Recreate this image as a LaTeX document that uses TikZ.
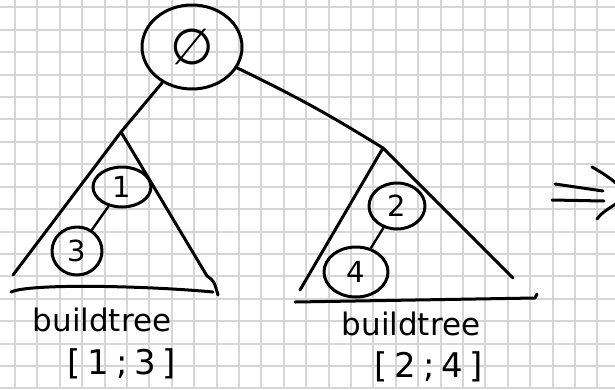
\documentclass[tikz,border=0pt]{standalone}
\usepackage{fontspec}
\setmainfont{DejaVu Sans}
\usetikzlibrary{positioning, shapes.geometric}
\definecolor{ink}{RGB}{0,0,0}
\definecolor{gridgray}{RGB}{214,214,214}
\tikzset{
    pen/.style={draw=ink, line width=3pt, line cap=round, line join=round},
    keynode/.style={pen, ellipse, inner sep=0pt, font=\fontsize{29}{29}\selectfont},
    rootnode/.style={keynode, font=\fontsize{50}{50}\selectfont},
    caption/.style={font=\fontsize{31}{32}\selectfont, inner sep=0pt},
    rangetext/.style={font=\fontsize{34}{34}\selectfont\addfontfeatures{LetterSpace=20}, inner sep=0pt},
    gridline/.style={draw=gridgray, line width=2pt}
}

\begin{document}
\begin{tikzpicture}[x=1pt, y=-1pt]

\useasboundingbox (0,0) rectangle (615,389);
\fill[white] (0,0) rectangle (615,389);

% Paper
\begin{scope}
    \clip (0,0) rectangle (615,389);
    \foreach \i in {0,...,27} \draw[gridline] ({15+22.4*\i},0) -- ++(0,389);
    \foreach \j in {0,...,17} \draw[gridline] (0,{7.3+22.42*\j}) -- ++(615,0);
\end{scope}

% Nodes
\node[rootnode, minimum width=100pt, minimum height=84pt] (root) at (192,47) {∅};
\node[keynode, minimum width=58pt, minimum height=40pt] (one) at (122,187) {1};
\node[keynode, minimum width=50pt, minimum height=48pt] (three) at (77,251) {3};
\node[keynode, minimum width=56pt, minimum height=46pt] (two) at (397,206) {2};
\node[keynode, minimum width=64pt, minimum height=50pt] (four) at (356,272) {4};

% Subtrees
\coordinate (leftapex) at (121,132);
\coordinate (leftbl) at (13,275);
\coordinate (leftbr) at (207,276);
\coordinate (rightapex) at (383,148);
\coordinate (rightbl) at (300,290);
\coordinate (rightbr) at (513,278);

\draw[pen] (root) -- (leftapex);
\draw[pen] (root) to[bend left=3] (rightapex);
\draw[pen] (leftbl) -- (leftapex) -- (leftbr) .. controls (214,281) .. (218,295);
\draw[pen] (rightbl) -- (rightapex) -- (rightbr);

\draw[pen] (11,292) .. controls (30,283) and (150,286) .. (213,292);
\draw[pen] (295,302) -- (535,298) -- (537,294);

\draw[pen, line width=2.4pt] (one) -- (three);
\draw[pen, line width=2.4pt] (two) -- (four);

% Labels
\node[caption] (leftname) at (102,320) {buildtree};
\node[rangetext] (leftrange) at (122,364) {[1;3]};
\node[caption] (rightname) at (411,324) {buildtree};
\node[rangetext] (rightrange) at (429,367) {[2;4]};

% Implies
\begin{scope}
    \clip (0,0) rectangle (615,389);
    \draw[pen] (555,184) -- (603,191);
    \draw[pen] (552,200) -- (604,201);
    \draw[pen] (592,167) .. controls (612,178) and (625,190) .. (627,196)
        .. controls (618,204) and (603,210) .. (597,219);
\end{scope}

\end{tikzpicture}
\end{document}
